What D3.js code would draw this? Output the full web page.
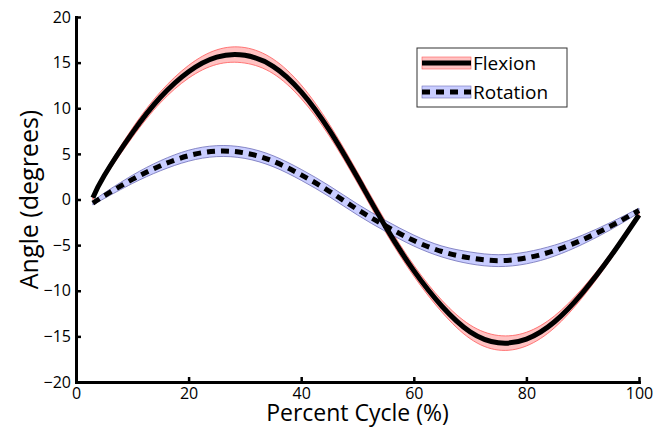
<!DOCTYPE html>
<html>
<head>
<meta charset="utf-8">
<script src="https://cdn.jsdelivr.net/npm/d3@7"></script>
<style>
	body { margin: 0; background: #fff; }
	svg text { font-family: 'Open Sans', sans-serif; fill: #000; }
	.axis path, .axis line { stroke: #000; }
	.axis path { stroke-width: 3; }
	.axis line { stroke-width: 2.5; }
	.axis text { font-size: 16px; }
</style>
</head>
<body>
<div id="chart"></div>
<script>

// percent cycle sample points
var cycle = [3, 5, 10, 15, 20, 25, 30, 35, 40, 45, 50, 55, 60, 65, 70, 75, 80, 85, 90, 95, 100]

// mean angles (degrees)
var flexion = [0.2, 2.6, 7.3, 11.2, 14.0, 15.6, 15.8, 14.6, 11.8, 7.6, 2.4, -3.0, -7.8, -11.7, -14.5, -15.7, -15.3, -13.4, -10.2, -6.2, -1.7]
var rotation = [-0.4, 0.4, 2.2, 3.7, 4.8, 5.3, 5.1, 4.2, 2.7, 0.9, -1.1, -2.9, -4.5, -5.7, -6.4, -6.7, -6.4, -5.6, -4.4, -2.9, -1.2]

// spread (degrees) drawn as shaded band
var flexionSd = [0.2, 0.3, 0.5, 0.6, 0.7, 0.8, 0.85, 0.8, 0.75, 0.65, 0.6, 0.6, 0.6, 0.65, 0.75, 0.8, 0.75, 0.65, 0.5, 0.35, 0.2]
var rotationSd = [0.2, 0.3, 0.45, 0.55, 0.6, 0.6, 0.6, 0.6, 0.6, 0.6, 0.6, 0.6, 0.6, 0.6, 0.65, 0.65, 0.65, 0.6, 0.5, 0.4, 0.25]

var xTicks = [0, 20, 40, 60, 80, 100]
var yTicks = [-20, -15, -10, -5, 0, 5, 10, 15, 20]

var legendNames = ['Flexion', 'Rotation']

var W = 668
var H = 428

var margin = {
	'top' : 17,
	'right' : 29,
	'bottom' : 46,
	'left' : 76
}

var xScale = d3.scaleLinear()
	.domain([0, 100])
	.range([margin.left, W - margin.right])

var yScale = d3.scaleLinear()
	.domain([-20, 20])
	.range([H - margin.bottom, margin.top])

var svg = d3.select('#chart')
	.append('svg')
	.attr('width', W)
	.attr('height', H)

var makeSeries = function(mean, sd) {
	return cycle.map(function(c, i) {
		return { 'x' : c, 'y' : mean[i], 'sd' : sd[i] }
	})
}

var series = [
	{ 'name' : 'Flexion', 'data' : makeSeries(flexion, flexionSd), 'fill' : '#ffc2c2', 'edge' : '#ff5a5a', 'dash' : null },
	{ 'name' : 'Rotation', 'data' : makeSeries(rotation, rotationSd), 'fill' : '#c9cdff', 'edge' : '#6f6fb8', 'dash' : '8,6' }
]

var area = d3.area()
	.curve(d3.curveNatural)
	.x(function(d) { return xScale(d.x) })
	.y0(function(d) { return yScale(d.y - d.sd) })
	.y1(function(d) { return yScale(d.y + d.sd) })

var line = d3.line()
	.curve(d3.curveNatural)
	.x(function(d) { return xScale(d.x) })
	.y(function(d) { return yScale(d.y) })

var plot = svg.append('g')

// bands first, then the mean lines
series.forEach(function(s) {
	plot.append('path')
		.datum(s.data)
		.attr('d', area)
		.style('fill', s.fill)
		.style('stroke', s.edge)
		.style('stroke-width', 0.8)
})

series.forEach(function(s) {
	plot.append('path')
		.datum(s.data)
		.attr('d', line)
		.style('fill', 'none')
		.style('stroke', '#000')
		.style('stroke-width', 5)
		.style('stroke-dasharray', s.dash)
})

// axes, ticks point inward
var axisX = d3.axisBottom(xScale)
	.tickValues(xTicks)
	.tickSizeInner(-5)
	.tickSizeOuter(0)
	.tickPadding(6)

var axisY = d3.axisLeft(yScale)
	.tickValues(yTicks)
	.tickSizeInner(-5)
	.tickSizeOuter(0)
	.tickPadding(5)

svg.append('g')
	.attr('class', 'axis')
	.attr('transform', 'translate(0,' + (H - margin.bottom) + ')')
	.call(axisX)

svg.append('g')
	.attr('class', 'axis')
	.attr('transform', 'translate(' + margin.left + ',0)')
	.call(axisY)

svg.selectAll('.axis .domain').attr('stroke-linecap', 'square')

svg.append('text')
	.attr('x', xScale(50))
	.attr('y', 421)
	.attr('text-anchor', 'middle')
	.style('font-size', '23px')
	.text('Percent Cycle (%)')

svg.append('text')
	.attr('transform', 'translate(38,' + yScale(0) + ') rotate(-90)')
	.attr('text-anchor', 'middle')
	.style('font-size', '25px')
	.text('Angle (degrees)')

// legend
var legend = svg.append('g')
	.attr('transform', 'translate(417,48)')

legend.append('rect')
	.attr('width', 150)
	.attr('height', 59)
	.style('fill', '#fff')
	.style('stroke', '#333')
	.style('stroke-width', 1)

legendNames.forEach(function(name, i) {
	var s = series[i]
	var ly = 15 + i * 29
	legend.append('rect')
		.attr('x', 5)
		.attr('y', ly - 6)
		.attr('width', 49)
		.attr('height', 12)
		.style('fill', s.fill)
		.style('stroke', s.edge)
		.style('stroke-width', 0.6)
	legend.append('line')
		.attr('x1', 5)
		.attr('x2', 54)
		.attr('y1', ly)
		.attr('y2', ly)
		.style('stroke', '#000')
		.style('stroke-width', 5)
		.style('stroke-dasharray', s.dash)
	legend.append('text')
		.attr('x', 56)
		.attr('y', ly + 7)
		.style('font-size', '19px')
		.text(name)
})

</script>
</body>
</html>
